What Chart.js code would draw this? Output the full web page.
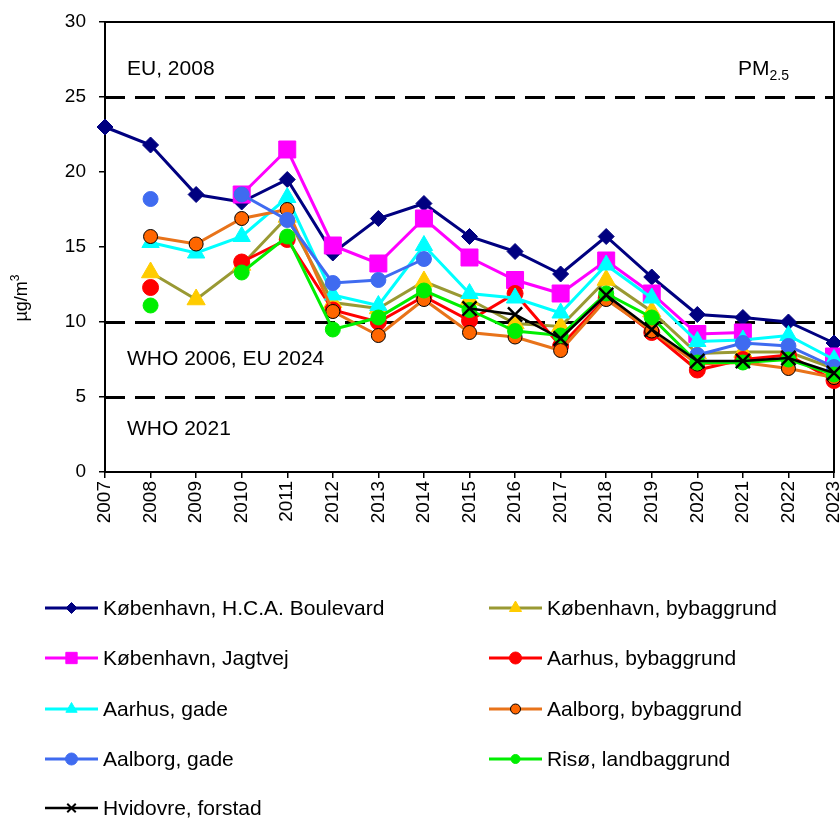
<!DOCTYPE html>
<html>
<head>
<meta charset="utf-8">
<script src="https://cdn.jsdelivr.net/npm/chart.js@4.4.1/dist/chart.umd.min.js"></script>
<style>
  html, body { margin: 0; padding: 0; background: #fff; }
  #wrap { width: 840px; height: 818px; position: relative; }
</style>
</head>
<body>
<div id="wrap"><canvas id="pmChart" width="840" height="818"></canvas></div>
<script>
// PM2.5 annual means, ug/m3
const years = ["2007", "2008", "2009", "2010", "2011", "2012", "2013", "2014", "2015",
  "2016", "2017", "2018", "2019", "2020", "2021", "2022", "2023"];

const hcaBoulevard = [23.0, 21.8, 18.5, 18.0, 19.5, 14.6, 16.9, 17.9, 15.7, 14.7, 13.2, 15.7, 13.0, 10.5, 10.3, 10.0, 8.6];
const kbhBybaggrund = [null, 13.3, 11.5, 13.8, 17.0, 11.3, 10.9, 12.7, 11.5, 9.9, 9.7, 12.8, 10.7, 7.9, 8.0, 8.0, 6.9];
const jagtvej = [null, null, null, 18.5, 21.5, 15.1, 13.9, 16.9, 14.3, 12.8, 11.9, 14.1, 11.9, 9.2, 9.3, null, 7.7];
const aarhusBy = [null, 12.3, null, 14.0, 15.5, 10.8, 10.0, 11.7, 10.1, 11.9, 8.4, 11.6, 9.3, 6.8, 7.5, 7.8, 6.1];
const aarhusGade = [null, 15.3, 14.6, 15.7, 18.3, 11.8, 11.1, 15.1, 11.9, 11.6, 10.6, 13.8, 11.6, 8.7, 8.8, 9.1, 7.5];
const aalborgBy = [null, 15.7, 15.2, 16.9, 17.5, 10.7, 9.1, 11.5, 9.3, 9.0, 8.1, 11.5, 9.4, 7.2, 7.3, 6.9, 6.3];
const aalborgGade = [null, 18.2, null, 18.5, 16.8, 12.6, 12.8, 14.2, null, null, null, null, null, 7.8, 8.6, 8.4, 7.0];
const riso = [null, 11.1, null, 13.3, 15.7, 9.5, 10.3, 12.1, 10.8, 9.4, 9.1, 11.9, 10.3, 7.3, 7.3, 7.5, 6.5];
const hvidovre = [null, null, null, null, null, null, null, null, 10.9, 10.5, 8.9, 11.8, 9.5, 7.4, 7.4, 7.6, 6.6];

const yTicks = [0, 5, 10, 15, 20, 25, 30];
const limitValues = [25, 10, 5];
const limitLabels = [
  { text: "EU, 2008", value: 27.0 },
  { text: "WHO 2006, EU 2024", value: 7.7 },
  { text: "WHO 2021", value: 3.0 },
];

const FONT = "'Liberation Sans', Arial, sans-serif";

// series in legend order (row by row, two columns)
const series = [
  { label: "København, H.C.A. Boulevard", data: hcaBoulevard, line: "#000080", fill: "#000080", edge: "#000080", style: "rectRot", r: 8, lr: 5.5 },
  { label: "København, bybaggrund", data: kbhBybaggrund, line: "#999933", fill: "#FFCC00", edge: "#FFCC00", style: "triangle", r: 10.5, lr: 7 },
  { label: "København, Jagtvej", data: jagtvej, line: "#FF00FF", fill: "#FF00FF", edge: "#FF00FF", style: "rect", r: 12, lr: 8 },
  { label: "Aarhus, bybaggrund", data: aarhusBy, line: "#FF0000", fill: "#FF0000", edge: "#FF0000", style: "circle", r: 8, lr: 6 },
  { label: "Aarhus, gade", data: aarhusGade, line: "#00FFFF", fill: "#00FFFF", edge: "#00FFFF", style: "triangle", r: 10, lr: 6.5 },
  { label: "Aalborg, bybaggrund", data: aalborgBy, line: "#E8731A", fill: "#FF6600", edge: "#000000", style: "circle", r: 7, lr: 5 },
  { label: "Aalborg, gade", data: aalborgGade, line: "#3F6BF0", fill: "#3F6BF0", edge: "#3F6BF0", style: "circle", r: 7.5, lr: 6 },
  { label: "Risø, landbaggrund", data: riso, line: "#00EE00", fill: "#00EE00", edge: "#00EE00", style: "circle", r: 7.5, lr: 4.5 },
  { label: "Hvidovre, forstad", data: hvidovre, line: "#000000", fill: "#000000", edge: "#000000", style: "crossRot", r: 10, lr: 6 },
];

const datasets = series.map((s, i) => ({
  label: s.label,
  data: s.data,
  borderColor: s.line,
  borderWidth: s.style === "crossRot" ? 2.5 : 3,
  backgroundColor: s.fill,
  pointStyle: s.style,
  pointRadius: s.r,
  pointHoverRadius: s.r,
  pointBackgroundColor: s.fill,
  pointBorderColor: s.edge,
  pointBorderWidth: s.style === "crossRot" ? 2.5 : 1,
  spanGaps: false,
  tension: 0,
  clip: false,
  order: series.length - i,
}));

const overlay = {
  id: "overlay",
  beforeDatasetsDraw(chart) {
    const { ctx, chartArea: a, scales: { y } } = chart;
    ctx.save();
    // limit lines
    ctx.strokeStyle = "#000";
    ctx.lineWidth = 3;
    ctx.setLineDash([20, 10]);
    limitValues.forEach((v) => {
      const py = Math.round(y.getPixelForValue(v)) + 0.5;
      ctx.beginPath();
      ctx.moveTo(a.left, py);
      ctx.lineTo(a.right, py);
      ctx.stroke();
    });
    ctx.setLineDash([]);
    // frame
    ctx.lineWidth = 2;
    ctx.strokeRect(a.left, a.top, a.right - a.left, a.bottom - a.top);

    // texts
    ctx.fillStyle = "#000";
    ctx.font = "21px " + FONT;
    ctx.textBaseline = "alphabetic";
    ctx.textAlign = "left";
    limitLabels.forEach((l) => {
      ctx.fillText(l.text, a.left + 22, y.getPixelForValue(l.value) + 8);
    });
    const pmY = y.getPixelForValue(27.0) + 8;
    ctx.fillText("PM", 738, pmY);
    const pmW = ctx.measureText("PM").width;
    ctx.font = "14px " + FONT;
    ctx.fillText("2.5", 738 + pmW, pmY + 5);
    ctx.restore();
  },
  afterDraw(chart) {
    const { ctx } = chart;
    ctx.save();
    // y axis title with superscript
    ctx.fillStyle = "#000";
    ctx.translate(22, 298);
    ctx.rotate(-Math.PI / 2);
    ctx.font = "18px " + FONT;
    const w1 = ctx.measureText("µg/m").width;
    ctx.font = "12px " + FONT;
    const w2 = ctx.measureText("3").width;
    const x0 = -(w1 + w2) / 2;
    ctx.textBaseline = "middle";
    ctx.textAlign = "left";
    ctx.font = "18px " + FONT;
    ctx.fillText("µg/m", x0, 0);
    ctx.font = "12px " + FONT;
    ctx.fillText("3", x0 + w1, -6);
    ctx.restore();

    // legend, two columns
    const rows = [608, 658, 709, 759, 808];
    const cols = [45, 489];
    ctx.save();
    series.forEach((s, i) => {
      const cy = rows[Math.floor(i / 2)];
      const lx = cols[i % 2];
      ctx.strokeStyle = s.line;
      ctx.lineWidth = s.style === "crossRot" ? 2.5 : 3;
      ctx.beginPath();
      ctx.moveTo(lx, cy);
      ctx.lineTo(lx + 53, cy);
      ctx.stroke();
      ctx.fillStyle = s.fill;
      ctx.strokeStyle = s.edge;
      ctx.lineWidth = s.style === "crossRot" ? 2 : 1;
      Chart.helpers.drawPoint(ctx, {
        pointStyle: s.style, radius: s.lr, rotation: 0,
        borderWidth: s.style === "crossRot" ? 2 : 1,
      }, lx + 26.5, cy);
      ctx.fillStyle = "#000";
      ctx.font = "21px " + FONT;
      ctx.textBaseline = "middle";
      ctx.textAlign = "left";
      ctx.fillText(s.label, lx + 58, cy + 1);
    });
    ctx.restore();
  },
};

new Chart(document.getElementById("pmChart"), {
  type: "line",
  data: { labels: years, datasets: datasets },
  plugins: [overlay],
  options: {
    responsive: false,
    animation: false,
    layout: { autoPadding: false, padding: { left: 0, top: 22, right: 6, bottom: 0 } },
    plugins: {
      legend: { display: false },
      tooltip: { enabled: false },
    },
    scales: {
      x: {
        type: "category",
        offset: false,
        border: { display: true, color: "#000", width: 2 },
        grid: { drawOnChartArea: false, drawTicks: true, tickLength: 6, color: "#000", lineWidth: 1.5 },
        ticks: {
          autoSkip: false, maxRotation: 90, minRotation: 90, padding: 3,
          color: "#000", font: { family: FONT, size: 19 },
        },
        afterFit(scale) {
          scale.height = 346;
          scale.paddingLeft = 0;
          scale.paddingRight = 0;
        },
      },
      y: {
        min: 0, max: 30,
        afterBuildTicks(scale) {
          scale.ticks = yTicks.map((v) => ({ value: v }));
        },
        border: { display: true, color: "#000", width: 2 },
        grid: { drawOnChartArea: false, drawTicks: true, tickLength: 6, color: "#000", lineWidth: 1.5 },
        ticks: { padding: 13, color: "#000", font: { family: FONT, size: 19 } },
        afterFit(scale) {
          scale.width = 105;
          scale.paddingTop = 0;
          scale.paddingBottom = 0;
        },
      },
    },
  },
});
</script>
</body>
</html>
